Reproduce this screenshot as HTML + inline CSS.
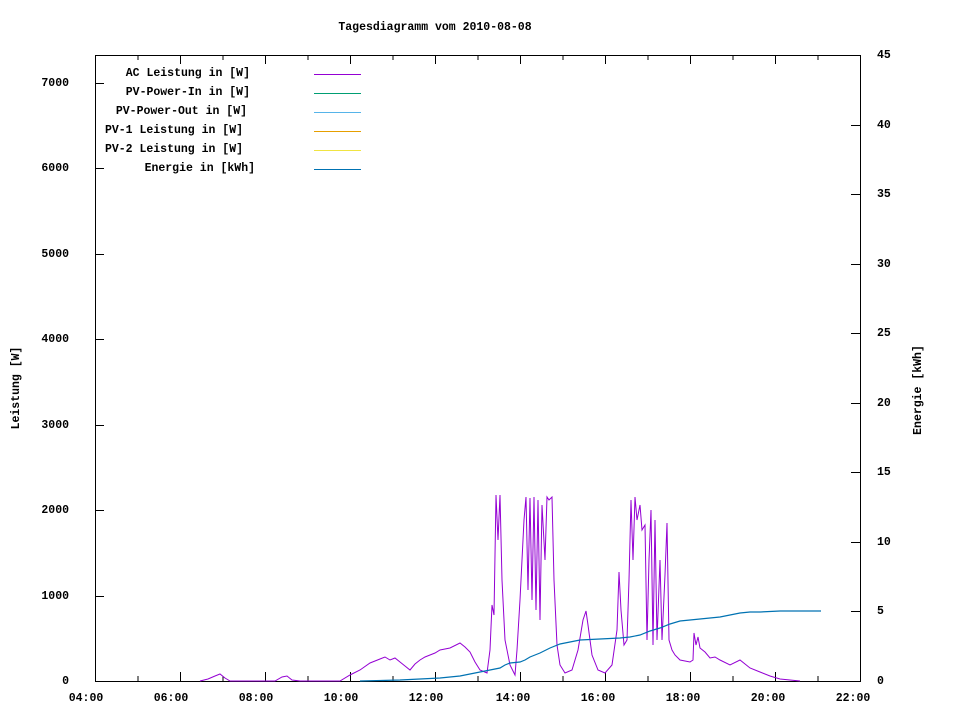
<!DOCTYPE html>
<html><head><meta charset="utf-8"><style>html,body{margin:0;padding:0;background:#fff}</style></head><body>
<svg width="960" height="720" xmlns="http://www.w3.org/2000/svg" font-family="Liberation Mono, monospace" font-size="11.5" font-weight="bold">
<rect width="960" height="720" fill="#fff"/>
<text x="435" y="30" text-anchor="middle">Tagesdiagramm vom 2010-08-08</text>
<rect x="95.5" y="55.5" width="765" height="626" fill="none" stroke="#000" stroke-width="1"/>
<g stroke="#000" stroke-width="1">
<path d="M95.5 681v-9M180.5 681v-9M265.5 681v-9M350.5 681v-9M435.5 681v-9M520.5 681v-9M605.5 681v-9M690.5 681v-9M775.5 681v-9
M95.5 55v9M180.5 55v9M265.5 55v9M350.5 55v9M435.5 55v9M520.5 55v9M605.5 55v9M690.5 55v9M775.5 55v9
M138 681v-5M223 681v-5M308 681v-5M393 681v-5M478 681v-5M563 681v-5M648 681v-5M733 681v-5M818 681v-5
M138 55v5M223 55v5M308 55v5M393 55v5M478 55v5M563 55v5M648 55v5M733 55v5M818 55v5"/>
<path d="M95 596.5h9M95 510.5h9M95 425.5h9M95 339.5h9M95 254.5h9M95 168.5h9M95 83.5h9"/>
<path d="M860 611.5h-9M860 542.5h-9M860 472.5h-9M860 403.5h-9M860 333.5h-9M860 264.5h-9M860 194.5h-9M860 125.5h-9M860 55.5h-9"/>
</g>
<g text-anchor="end">
<text x="69" y="684">0</text><text x="69" y="599">1000</text><text x="69" y="513">2000</text><text x="69" y="428">3000</text><text x="69" y="342">4000</text><text x="69" y="257">5000</text><text x="69" y="171">6000</text><text x="69" y="86">7000</text>
</g>
<g text-anchor="start">
<text x="877" y="684">0</text><text x="877" y="614">5</text><text x="877" y="545">10</text><text x="877" y="475">15</text><text x="877" y="406">20</text><text x="877" y="336">25</text><text x="877" y="267">30</text><text x="877" y="197">35</text><text x="877" y="128">40</text><text x="877" y="58">45</text>
</g>
<g text-anchor="middle">
<text x="86" y="701">04:00</text><text x="171" y="701">06:00</text><text x="256" y="701">08:00</text><text x="341" y="701">10:00</text><text x="426" y="701">12:00</text><text x="513" y="701">14:00</text><text x="598" y="701">16:00</text><text x="683" y="701">18:00</text><text x="768" y="701">20:00</text><text x="853" y="701">22:00</text>
</g>
<text transform="translate(19,388) rotate(-90)" text-anchor="middle">Leistung [W]</text>
<text transform="translate(921,390) rotate(-90)" text-anchor="middle">Energie [kWh]</text>
<g text-anchor="end">
<text x="250" y="76">AC Leistung in [W]</text>
<text x="250" y="95">PV-Power-In in [W]</text>
<text x="247" y="114">PV-Power-Out in [W]</text>
<text x="243" y="133">PV-1 Leistung in [W]</text>
<text x="243" y="152">PV-2 Leistung in [W]</text>
<text x="255" y="171">Energie in [kWh]</text>
</g>
<g stroke-width="1">
<path d="M314 74.5h47" stroke="#9400d3"/>
<path d="M314 93.5h47" stroke="#009e73"/>
<path d="M314 112.5h47" stroke="#56b4e9"/>
<path d="M314 131.5h47" stroke="#e69f00"/>
<path d="M314 150.5h47" stroke="#f0e442"/>
<path d="M314 169.5h47" stroke="#0072b2"/>
</g>
<polyline fill="none" stroke="#9400d3" stroke-width="1" points="200,681 208,679 215,676 220,674 225,678 230,681 275,681 282,677 287,676 292,680 300,681 340,681 350,675 360,670 370,663 380,659 385,657 390,660 395,658 400,662 405,666 410,670 415,664 420,660 425,657 430,655 435,653 440,650 450,648 460,643 465,647 470,652 475,662 480,670 487,673 490,650 492,605 494,615 496,495 498,540 500,495 502,580 505,640 510,665 515,675 517,650 520,600 522,560 524,520 526,497 528,590 530,498 532,600 534,497 536,610 538,500 540,620 542,505 545,560 547,497 549,500 552,497 554,580 557,645 560,665 565,673 572,670 578,650 583,620 586,611 588,625 592,655 598,670 605,673 612,665 617,630 619,572 621,610 624,645 627,640 629,580 631,500 633,560 635,497 637,520 640,505 642,530 645,525 647,640 649,560 651,510 653,645 655,520 657,640 660,560 662,640 665,575 667,523 669,640 672,650 675,655 680,660 690,662 693,660 694,633 696,645 698,637 700,648 705,652 710,658 715,657 720,660 730,665 740,660 750,668 760,672 770,676 780,679 800,681"/>
<polyline fill="none" stroke="#0072b2" stroke-width="1.2" points="360,681 400,680 440,678 460,676 470,674 480,672 490,670 500,668 505,665 510,663 520,662 525,660 530,657 540,653 550,648 560,644 570,642 580,640 600,639 620,638 630,637 640,635 650,631 660,628 670,624 680,621 690,620 700,619 710,618 720,617 730,615 740,613 750,612 760,612 780,611 800,611 821,611"/>
</svg>
</body></html>
